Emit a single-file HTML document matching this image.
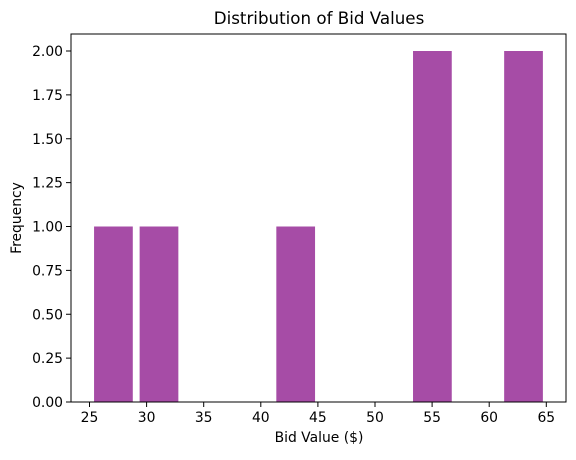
<!DOCTYPE html>
<html><head><meta charset="utf-8"><style>
body{margin:0;background:#fff;}
svg text{font-family:"DejaVu Sans","Liberation Sans",sans-serif;fill:#000;}
</style></head><body>
<svg id="chart" width="576" height="455">
<text x="319" y="24" font-size="16.7" text-anchor="middle">Distribution of Bid Values</text>
<text x="319" y="442" font-size="13.9" text-anchor="middle">Bid Value ($)</text>
<text transform="translate(21,218) rotate(-90)" font-size="13.9" text-anchor="middle">Frequency</text>
<g id="bars"></g><g id="xt"></g><g id="yt"></g>
<rect x="71" y="34" width="495" height="368" fill="none" stroke="#000" stroke-width="1"/>
</svg>
<script>
const binMin = 25.1;
const binMax = 65.0;
const counts = [1,1,0,0,1,0,0,2,0,2];
const xTicks = [25,30,35,40,45,50,55,60,65];
const yTicks = [0,0.25,0.5,0.75,1,1.25,1.5,1.75,2];
const X = v => 89.5 + (v-25)*11.42;
const Y = v => 402 - v*175.5;
const ns = "http://www.w3.org/2000/svg";
const bw = (binMax-binMin)/counts.length;
const bars = document.getElementById('bars');
counts.forEach((c,i)=>{
  if(!c) return;
  const s = binMin+i*bw + bw*0.075, e = s + bw*0.85;
  const r = document.createElementNS(ns,'rect');
  r.setAttribute('x',X(s)); r.setAttribute('width',X(e)-X(s));
  r.setAttribute('y',Y(c)); r.setAttribute('height',Y(0)-Y(c));
  r.setAttribute('fill','#a64ca6');
  
  
  bars.appendChild(r);
});
const xt = document.getElementById('xt');
xTicks.forEach(t=>{
  const l = document.createElementNS(ns,'line');
  l.setAttribute('x1',X(t)); l.setAttribute('x2',X(t)); l.setAttribute('y1',402); l.setAttribute('y2',407);
  l.setAttribute('stroke','#000'); l.setAttribute('stroke-width','1');
  xt.appendChild(l);
  const tx = document.createElementNS(ns,'text');
  tx.setAttribute('x',X(t)); tx.setAttribute('y',422); tx.setAttribute('font-size','13.9'); tx.setAttribute('text-anchor','middle');
  tx.textContent = t;
  
  
  xt.appendChild(tx);
});
const yt = document.getElementById('yt');
yTicks.forEach(t=>{
  const l = document.createElementNS(ns,'line');
  l.setAttribute('x1',66); l.setAttribute('x2',71); l.setAttribute('y1',Y(t)); l.setAttribute('y2',Y(t));
  l.setAttribute('stroke','#000'); l.setAttribute('stroke-width','1');
  yt.appendChild(l);
  const tx = document.createElementNS(ns,'text');
  tx.setAttribute('x',63); tx.setAttribute('y',Y(t)+5); tx.setAttribute('font-size','13.9'); tx.setAttribute('text-anchor','end');
  tx.textContent = t.toFixed(2);
  
  
  yt.appendChild(tx);
});
</script>
</body></html>
